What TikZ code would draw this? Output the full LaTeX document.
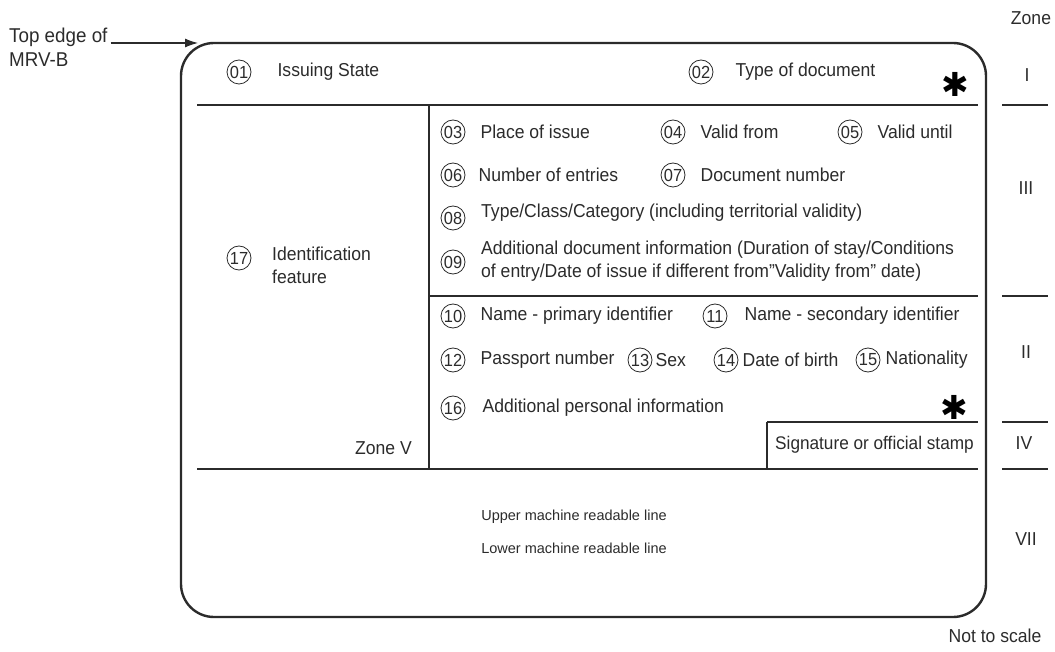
\documentclass[tikz,border=0pt]{standalone}
\usepackage{fontspec}
\setmainfont{Liberation Sans}[FakeStretch=0.94]
\newfontfamily\mrzfont{Liberation Sans}
\newfontfamily\symfont{DejaVu Sans}
\usepackage{tikz}
\usetikzlibrary{arrows.meta,positioning}
\definecolor{ink}{HTML}{2B2B2B}
\tikzset{
  num/.style={draw=ink, circle, line width=0.8pt, inner sep=0pt, minimum size=24pt,
    font=\fontsize{17.5}{17.5}\selectfont},
  field/.style={anchor=west, inner sep=0pt, align=left, font=\fontsize{18.7}{23}\selectfont},
  zonelbl/.style={inner sep=0pt, font=\fontsize{18.7}{22}\selectfont},
  mrz/.style={inner sep=0pt, font=\mrzfont\fontsize{14.5}{16}\selectfont},
  star/.style={inner sep=0pt, text=black, font=\symfont\bfseries\fontsize{33}{33}\selectfont},
  divider/.style={color=ink, line width=1.1pt},
  zoneline/.style={color=ink, line width=1.3pt}
}

\begin{document}
\begin{tikzpicture}[x=1pt,y=-1pt,color=ink,text=ink]
\useasboundingbox (0,0) rectangle (1055,652);
% card outline and inner rules
\draw[line width=2.4pt, rounded corners=33pt] (181,43) rectangle (986,617);
\draw[divider] (197,105) -- (978,105);
\draw[divider] (429,105) -- (429,469);
\draw[divider] (429,296) -- (978,296);
\draw[divider] (197,469) -- (978,469);
\draw[divider] (767,422) -- (978,422);
\draw[divider] (767,422) -- (767,469);
% zone I
\node[num] (n01) at (239,72) {01};
\node[field, right=26pt of n01] (f01) {Issuing State};
\node[num] (n02) at (701,72) {02};
\node[field, right=22pt of n02] (f02) {Type of document};
\node[star] (star1) at (955,84) {✱};
% zone III
\node[num] (n03) at (453,132) {03};
\node[field, right=15pt of n03] (f03) {Place of issue};
\node[num] (n04) at (673,132) {04};
\node[field, right=15pt of n04] (f04) {Valid from};
\node[num] (n05) at (850,132) {05};
\node[field, right=15pt of n05] (f05) {Valid until};
\node[num] (n06) at (453,175) {06};
\node[field, right=13pt of n06] (f06) {Number of entries};
\node[num] (n07) at (673,175) {07};
\node[field, right=15pt of n07] (f07) {Document number};
\node[num] (n08) at (453,218) {08};
\node[field] (f08) at (481,213) {Type/Class/Category (including territorial validity)};
\node[num] (n09) at (453,262) {09};
\node[field] (f09) at (481,261) {Additional document information (Duration of stay/Conditions\\of entry/Date of issue if different from''Validity from'' date)};
% zone II
\node[num] (n10) at (453,316) {10};
\node[field, right=15pt of n10] (f10) {Name - primary identifier};
\node[num] (n11) at (715,316) {11};
\node[field, right=17pt of n11] (f11) {Name - secondary identifier};
\node[num] (n12) at (453,360) {12};
\node[field, right=15pt of n12] (f12) {Passport number};
\node[num] (n13) at (640,360) {13};
\node[field, right=3pt of n13] (f13) {Sex};
\node[num] (n14) at (726,360) {14};
\node[field, right=4pt of n14] (f14) {Date of birth};
\node[num] (n15) at (868,360) {15};
\node[field, right=5pt of n15] (f15) {Nationality};
\node[num] (n16) at (453,408) {16};
\node[field, right=17pt of n16] (f16) {Additional personal information};
\node[star] (star2) at (954,407) {✱};
% zone V and IV
\node[num] (n17) at (239,258) {17};
\node[field, anchor=north west] (f17) at (272,247) {Identification\\feature};
\node[field, anchor=east] (zone5) at (412,448) {Zone V};
\node[field, font=\fontsize{18.3}{23}\selectfont] (sig) at (775,445) {Signature or official stamp};
% zone VII
\node[mrz] (upper) at (574,517) {Upper machine readable line};
\node[mrz] (lower) at (574,548) {Lower machine readable line};
% zones at the side
\node[zonelbl] (zhead) at (1031,18) {Zone};
\node[zonelbl] (z1) at (1027,75) {I};
\node[zonelbl] (z3) at (1026,188) {III};
\node[zonelbl] (z2) at (1026,352) {II};
\node[zonelbl] (z4) at (1024,443) {IV};
\node[zonelbl] (z7) at (1026,539) {VII};
\draw[zoneline] (1002,105) -- (1048,105);
\draw[zoneline] (1002,296) -- (1048,296);
\draw[zoneline] (1002,422) -- (1048,422);
\draw[zoneline] (1002,469) -- (1048,469);
\node[zonelbl] (noscale) at (995,636) {Not to scale};
% top edge pointer
\node[field, font=\fontsize{20}{23}\selectfont] (edge1) at (9,37) {Top edge of};
\node[field, font=\fontsize{20}{23}\selectfont] (edge2) at (9,60) {MRV-B};
\coordinate (mrvtop) at (198,43);
\draw[line width=1.1pt, shorten <=3pt, -{Latex[length=13pt,width=9pt]}] (edge1.east |- mrvtop) -- (mrvtop);
\end{tikzpicture}
\end{document}
